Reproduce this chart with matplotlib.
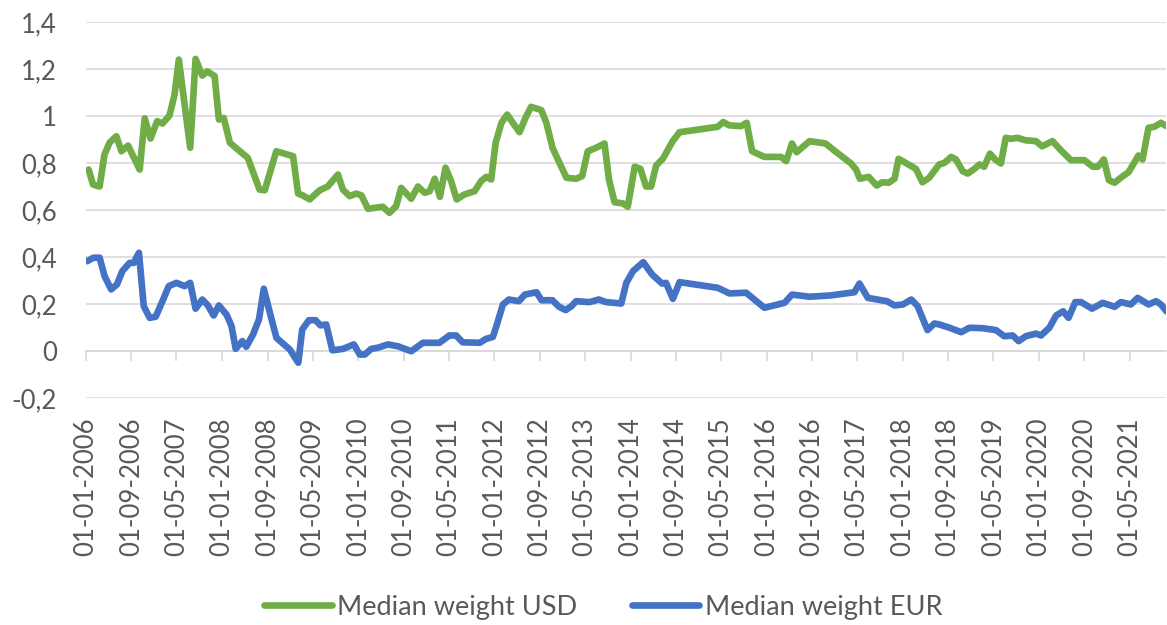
import pandas as pd
import matplotlib.pyplot as plt
from matplotlib.ticker import FuncFormatter

plt.rcParams['font.family'] = ['Lato', 'DejaVu Sans']

# values
usd_dates = ['2006-01-15', '2006-02-08', '2006-03-15', '2006-04-10', '2006-05-08', '2006-06-13',
             '2006-07-10', '2006-08-15', '2006-10-16', '2006-11-12', '2006-12-13', '2007-01-18',
             '2007-02-15', '2007-03-25', '2007-04-21', '2007-05-14', '2007-07-14', '2007-08-12',
             '2007-09-17', '2007-10-14', '2007-11-22', '2007-12-15', '2008-01-10', '2008-02-12',
             '2008-03-26', '2008-05-18', '2008-07-20', '2008-08-17', '2008-10-18', '2009-01-16',
             '2009-02-12', '2009-03-09', '2009-04-15', '2009-06-08', '2009-07-21', '2009-09-14',
             '2009-10-10', '2009-11-16', '2009-12-21', '2010-01-18', '2010-02-22', '2010-05-12',
             '2010-06-17', '2010-07-23', '2010-08-19', '2010-10-12', '2010-11-17', '2010-12-23',
             '2011-01-19', '2011-02-15', '2011-03-15', '2011-04-14', '2011-05-14', '2011-06-13',
             '2011-07-24', '2011-09-17', '2011-10-22', '2011-11-18', '2011-12-15', '2012-01-08',
             '2012-02-08', '2012-03-10', '2012-04-09', '2012-05-15', '2012-06-16', '2012-07-16',
             '2012-09-09', '2012-10-06', '2012-11-08', '2012-12-07', '2013-01-22', '2013-03-15',
             '2013-04-16', '2013-05-16', '2013-07-01', '2013-08-14', '2013-09-07', '2013-10-07',
             '2013-11-21', '2013-12-17', '2014-01-23', '2014-02-23', '2014-03-25', '2014-04-21',
             '2014-05-18', '2014-06-23', '2014-08-15', '2014-09-21', '2015-04-13', '2015-05-13',
             '2015-06-15', '2015-08-17', '2015-09-16', '2015-10-15', '2015-12-20', '2016-03-18',
             '2016-04-15', '2016-05-16', '2016-06-10', '2016-08-18', '2016-11-12', '2017-01-09',
             '2017-03-29', '2017-04-25', '2017-05-15', '2017-07-01', '2017-08-14', '2017-09-12',
             '2017-10-17', '2017-11-17', '2017-12-09', '2018-03-12', '2018-04-16', '2018-05-22',
             '2018-07-15', '2018-08-11', '2018-09-17', '2018-10-13', '2018-11-18', '2018-12-15',
             '2019-01-20', '2019-02-16', '2019-03-13', '2019-04-13', '2019-05-11', '2019-06-11',
             '2019-07-07', '2019-08-04', '2019-09-09', '2019-10-19', '2019-12-16', '2020-01-18',
             '2020-03-14', '2020-04-28', '2020-06-21', '2020-09-01', '2020-10-16', '2020-11-12',
             '2020-12-14', '2021-01-10', '2021-02-10', '2021-03-21', '2021-04-26', '2021-06-18',
             '2021-07-10', '2021-08-11', '2021-09-11', '2021-10-17', '2021-11-15']
usd_values = [0.772, 0.708, 0.700, 0.836, 0.887, 0.914,
              0.850, 0.874, 0.772, 0.990, 0.904, 0.978,
              0.968, 1.002, 1.090, 1.240, 0.865, 1.243,
              1.172, 1.190, 1.170, 0.985, 0.992, 0.886,
              0.857, 0.822, 0.687, 0.684, 0.850, 0.829,
              0.670, 0.662, 0.645, 0.684, 0.700, 0.751,
              0.687, 0.659, 0.670, 0.662, 0.605, 0.614,
              0.588, 0.616, 0.694, 0.648, 0.700, 0.673,
              0.680, 0.733, 0.656, 0.780, 0.723, 0.645,
              0.666, 0.680, 0.723, 0.741, 0.730, 0.886,
              0.971, 1.006, 0.971, 0.931, 0.992, 1.039,
              1.025, 0.971, 0.865, 0.815, 0.737, 0.733,
              0.744, 0.850, 0.865, 0.883, 0.730, 0.633,
              0.628, 0.614, 0.784, 0.775, 0.700, 0.700,
              0.789, 0.818, 0.893, 0.931, 0.954, 0.974,
              0.960, 0.957, 0.971, 0.850, 0.826, 0.826,
              0.808, 0.883, 0.846, 0.893, 0.883, 0.846,
              0.798, 0.772, 0.733, 0.741, 0.704, 0.718,
              0.716, 0.733, 0.818, 0.775, 0.718, 0.737,
              0.794, 0.800, 0.826, 0.815, 0.765, 0.755,
              0.775, 0.794, 0.784, 0.840, 0.815, 0.798,
              0.907, 0.903, 0.907, 0.897, 0.893, 0.871,
              0.893, 0.854, 0.812, 0.812, 0.784, 0.784,
              0.815, 0.727, 0.716, 0.741, 0.761, 0.832,
              0.815, 0.950, 0.954, 0.971, 0.957]

eur_dates = ['2006-01-08', '2006-02-09', '2006-03-15', '2006-04-11', '2006-05-16', '2006-06-16',
             '2006-07-15', '2006-08-23', '2006-09-14', '2006-10-12', '2006-11-07', '2006-12-09',
             '2007-01-10', '2007-02-19', '2007-03-21', '2007-05-01', '2007-06-14', '2007-07-14',
             '2007-08-12', '2007-09-17', '2007-10-17', '2007-11-17', '2007-12-15', '2008-01-25',
             '2008-02-21', '2008-03-14', '2008-04-19', '2008-05-10', '2008-06-15', '2008-07-17',
             '2008-08-12', '2008-09-23', '2008-10-19', '2008-12-30', '2009-02-13', '2009-03-06',
             '2009-04-11', '2009-05-17', '2009-06-12', '2009-07-13', '2009-08-15', '2009-10-11',
             '2009-12-08', '2010-01-09', '2010-02-05', '2010-03-11', '2010-04-16', '2010-06-09',
             '2010-08-02', '2010-10-12', '2010-12-14', '2011-03-12', '2011-05-05', '2011-06-10',
             '2011-07-15', '2011-10-14', '2011-11-19', '2011-12-24', '2012-01-12', '2012-02-16',
             '2012-03-19', '2012-05-12', '2012-06-12', '2012-08-14', '2012-09-10', '2012-11-08',
             '2012-12-13', '2013-01-18', '2013-02-18', '2013-03-15', '2013-05-25', '2013-07-14',
             '2013-08-23', '2013-11-12', '2013-12-09', '2014-01-14', '2014-03-10', '2014-04-26',
             '2014-06-19', '2014-07-10', '2014-08-16', '2014-09-21', '2015-04-13', '2015-05-10',
             '2015-06-15', '2015-09-13', '2015-10-27', '2015-12-20', '2016-04-06', '2016-05-16',
             '2016-08-18', '2016-12-04', '2017-04-16', '2017-05-13', '2017-06-27', '2017-10-07',
             '2017-11-17', '2018-01-01', '2018-02-15', '2018-03-21', '2018-05-13', '2018-06-19',
             '2018-07-15', '2018-09-08', '2018-11-10', '2018-12-24', '2019-03-04', '2019-05-15',
             '2019-06-29', '2019-08-13', '2019-09-14', '2019-10-23', '2019-12-16', '2020-01-12',
             '2020-02-26', '2020-04-02', '2020-05-10', '2020-06-08', '2020-07-14', '2020-08-14',
             '2020-10-12', '2020-12-08', '2021-02-10', '2021-03-16', '2021-05-08', '2021-06-14',
             '2021-08-11', '2021-09-21', '2021-10-17', '2021-11-15']
eur_values = [0.382, 0.397, 0.397, 0.318, 0.262, 0.283,
              0.340, 0.375, 0.375, 0.418, 0.190, 0.141,
              0.146, 0.219, 0.276, 0.290, 0.276, 0.290,
              0.180, 0.219, 0.194, 0.151, 0.194, 0.155,
              0.106, 0.009, 0.042, 0.018, 0.070, 0.134,
              0.265, 0.134, 0.056, 0.006, -0.050, 0.091,
              0.131, 0.131, 0.109, 0.113, 0.003, 0.009,
              0.028, -0.015, -0.015, 0.009, 0.014, 0.028,
              0.020, -0.001, 0.035, 0.035, 0.066, 0.066,
              0.037, 0.035, 0.052, 0.060, 0.106, 0.198,
              0.219, 0.212, 0.240, 0.250, 0.216, 0.216,
              0.188, 0.174, 0.191, 0.212, 0.208, 0.219,
              0.208, 0.202, 0.290, 0.340, 0.378, 0.326,
              0.287, 0.290, 0.222, 0.293, 0.269, 0.259,
              0.245, 0.248, 0.219, 0.184, 0.205, 0.240,
              0.231, 0.236, 0.250, 0.287, 0.226, 0.212,
              0.194, 0.198, 0.219, 0.191, 0.089, 0.117,
              0.113, 0.099, 0.080, 0.099, 0.097, 0.089,
              0.063, 0.066, 0.042, 0.063, 0.074, 0.066,
              0.099, 0.151, 0.169, 0.141, 0.208, 0.208,
              0.180, 0.205, 0.188, 0.208, 0.198, 0.226,
              0.198, 0.212, 0.198, 0.169]

tick_dates = pd.date_range('2006-01-01', '2021-05-01', freq='8MS')
y_ticks = [-0.2, 0, 0.2, 0.4, 0.6, 0.8, 1.0, 1.2, 1.4]

text_color = '#595959'
grid_color = '#D9D9D9'

fig = plt.figure(figsize=(11.67, 6.25), dpi=100)
ax = fig.add_axes([86 / 1167, 1 - 398 / 625, 1 - 86 / 1167 - 0.0005, (398 - 22) / 625])

ax.plot(pd.to_datetime(usd_dates), usd_values, color='#70AD47', lw=4.8,
        solid_joinstyle='round', solid_capstyle='round', label='Median weight USD')
ax.plot(pd.to_datetime(eur_dates), eur_values, color='#4472C4', lw=4.8,
        solid_joinstyle='round', solid_capstyle='round', label='Median weight EUR')

ax.set_ylim(-0.2, 1.4)
ax.set_xlim(pd.Timestamp('2006-01-01'), pd.Timestamp('2021-11-15'))
ax.set_yticks(y_ticks)
ax.yaxis.set_major_formatter(FuncFormatter(lambda v, p: ('%g' % round(v, 1)).replace('.', ',')))
ax.set_xticks(tick_dates)
ax.set_xticklabels([d.strftime('%d-%m-%Y') for d in tick_dates], rotation=90)
ax.grid(axis='y', color=grid_color, lw=1.2)
ax.set_axisbelow(True)
for s in ax.spines.values():
    s.set_visible(False)
ax.tick_params(axis='both', length=0, labelsize=18.5, labelcolor=text_color)
ax.tick_params(axis='y', pad=21)
ax.tick_params(axis='x', pad=14)

# horizontal axis line sits at 0 with tick marks below it
sec = ax.secondary_xaxis(0.2 / 1.6)
sec.set_xticks(tick_dates)
sec.set_xticklabels([])
sec.spines['bottom'].set_color(grid_color)
sec.spines['bottom'].set_linewidth(1.2)
sec.tick_params(axis='x', direction='out', length=7, width=1.2, color=grid_color)

fig.legend(loc='center', bbox_to_anchor=(0.517, 1 - 607 / 625), ncol=2, frameon=False,
           fontsize=19.5, labelcolor=text_color, handlelength=2.5, columnspacing=2.0,
           handletextpad=0.2)

plt.savefig('out.png')
